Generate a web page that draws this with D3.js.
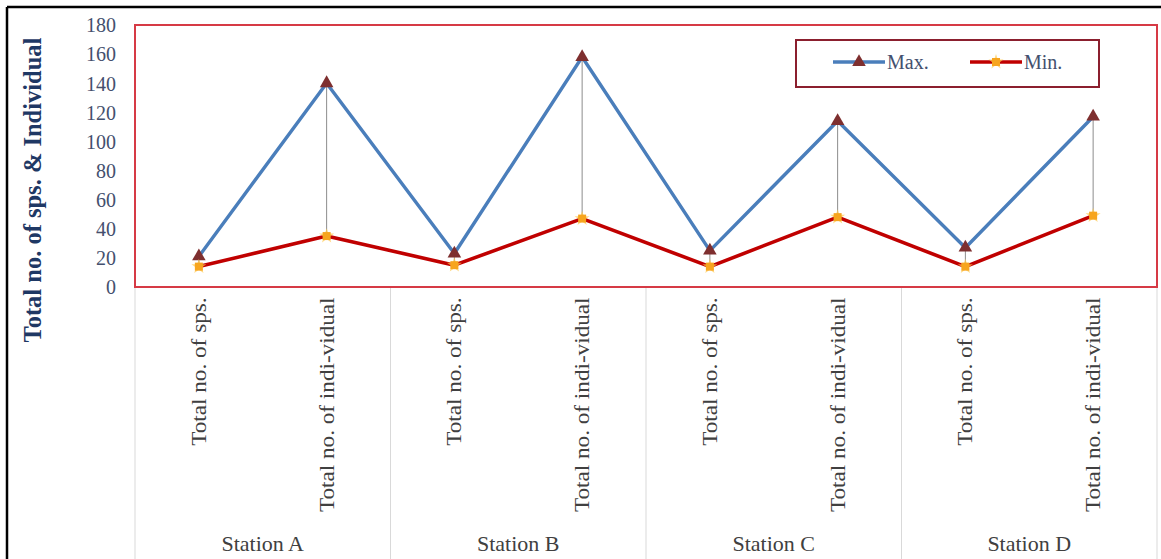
<!DOCTYPE html>
<html>
<head>
<meta charset="utf-8">
<script src="https://cdn.jsdelivr.net/npm/d3@7"></script>
<style>
  html, body { margin: 0; padding: 0; background: #fff; }
  svg { display: block; }
</style>
</head>
<body>
<svg id="chart" width="1161" height="559"></svg>
<script>
// Stations and the two measures recorded at each
const stations = ["Station A", "Station B", "Station C", "Station D"];
const measures = ["Total no. of sps.", "Total no. of indi-vidual"];

// Series values, in station order (sps, individual, sps, individual, ...)
const maxValues = [21, 140, 23, 158, 25, 114, 27, 117];
const minValues = [14, 35, 15, 47, 14, 48, 14, 49];

// Y-axis ticks
const yTicks = [0, 20, 40, 60, 80, 100, 120, 140, 160, 180];

const seriesNames = ["Max.", "Min."];

const svg = d3.select("#chart");
const W = 1161, H = 559;

// Plot frame
const plot = { left: 135, right: 1157, top: 25, bottom: 287 };

// Category keys: one per station/measure pair
const cats = [];
stations.forEach(s => measures.forEach(m => cats.push({ station: s, measure: m, key: s + "|" + m })));

const x = d3.scaleBand().domain(cats.map(c => c.key)).range([plot.left, plot.right]).padding(0);
const xGroup = d3.scaleBand().domain(stations).range([plot.left, plot.right]).padding(0);
const y = d3.scaleLinear().domain([0, 180]).range([plot.bottom, plot.top]);

const serif = "'Liberation Serif', 'Times New Roman', serif";

// Outer frame (top and left edges)
svg.append("line").attr("x1", 7).attr("x2", W).attr("y1", 7).attr("y2", 7)
  .attr("stroke", "#000").attr("stroke-width", 2.5);
svg.append("line").attr("x1", 7).attr("x2", 7).attr("y1", 7).attr("y2", H)
  .attr("stroke", "#000").attr("stroke-width", 2.5);

// Group separators below the axis
const sepXs = stations.map(s => xGroup(s)).concat([plot.right]);
svg.append("g").selectAll("line").data(sepXs).join("line")
  .attr("x1", d => d).attr("x2", d => d)
  .attr("y1", plot.bottom).attr("y2", H)
  .attr("stroke", "#d9d9d9").attr("stroke-width", 1);

// Y axis labels
const yAxis = d3.axisLeft(y).tickValues(yTicks).tickSize(0).tickPadding(0);
const gy = svg.append("g").attr("transform", `translate(116,0)`).call(yAxis);
gy.select(".domain").remove();
gy.selectAll("text")
  .attr("font-family", serif).attr("font-size", 20).attr("fill", "#44506e")
  .attr("dy", "0.34em");

// Category labels (rotated, slightly elongated along the reading direction)
const xAxis = d3.axisBottom(x).tickSize(0).tickFormat(k => k.split("|")[1]);
const gx = svg.append("g").attr("transform", `translate(0,${plot.bottom})`).call(xAxis);
gx.select(".domain").remove();
gx.selectAll("text")
  .attr("font-family", serif).attr("font-size", 20).attr("fill", "#404040")
  .attr("transform", "rotate(-90) scale(1.16,1)")
  .attr("text-anchor", "end")
  .attr("x", -9).attr("y", 0).attr("dy", "0.35em");

// Station labels
svg.append("g").selectAll("text").data(stations).join("text")
  .attr("x", d => xGroup(d) + xGroup.bandwidth() / 2)
  .attr("y", 551)
  .attr("text-anchor", "middle")
  .attr("font-family", serif).attr("font-size", 22).attr("fill", "#404040")
  .text(d => d);

// Y axis title
svg.append("text")
  .attr("transform", `translate(41,${190}) rotate(-90)`)
  .attr("text-anchor", "middle")
  .attr("font-family", serif).attr("font-size", 24.5).attr("font-weight", "bold")
  .attr("fill", "#1f3864")
  .text("Total no. of sps. & Individual");

// Plot frame border
svg.append("rect")
  .attr("x", plot.left).attr("y", plot.top)
  .attr("width", plot.right - plot.left).attr("height", plot.bottom - plot.top)
  .attr("fill", "none").attr("stroke", "#d63a45").attr("stroke-width", 2);

const cx = i => x(cats[i].key) + x.bandwidth() / 2;

// High-low lines
svg.append("g").selectAll("line").data(cats).join("line")
  .attr("x1", (d, i) => cx(i)).attr("x2", (d, i) => cx(i))
  .attr("y1", (d, i) => y(maxValues[i])).attr("y2", (d, i) => y(minValues[i]))
  .attr("stroke", "#8c8c8c").attr("stroke-width", 1);

const line = vals => d3.line().x((d, i) => cx(i)).y(d => y(d))(vals);

// Max series
svg.append("path").attr("d", line(maxValues))
  .attr("fill", "none").attr("stroke", "#4a7ebb").attr("stroke-width", 3.4)
  .attr("stroke-linejoin", "round");
// Min series
svg.append("path").attr("d", line(minValues))
  .attr("fill", "none").attr("stroke", "#c00000").attr("stroke-width", 3.6)
  .attr("stroke-linejoin", "round");

const tri = d3.symbol().type(d3.symbolTriangle).size(80);
const sq = d3.symbol().type(d3.symbolSquare).size(64);
const star = d3.symbol().type(d3.symbolStar).size(70);

svg.append("g").selectAll("path").data(maxValues).join("path")
  .attr("d", tri)
  .attr("transform", (d, i) => `translate(${cx(i)},${y(d)})`)
  .attr("fill", "#7e2f2f");

// Min markers: orange square with a faint star halo
const minMarks = svg.append("g").selectAll("g").data(minValues).join("g")
  .attr("transform", (d, i) => `translate(${cx(i)},${y(d)})`);
minMarks.append("path").attr("d", star).attr("fill", "#ffc94d").attr("opacity", 0.7);
minMarks.append("path").attr("d", sq).attr("fill", "#f7a51e");

// Legend
const lg = svg.append("g");
lg.append("rect").attr("x", 796).attr("y", 40).attr("width", 303).attr("height", 47)
  .attr("fill", "#fff").attr("stroke", "#8b1f2e").attr("stroke-width", 2);

const legendItems = [
  { name: seriesNames[0], x0: 833, color: "#4a7ebb", max: true },
  { name: seriesNames[1], x0: 970, color: "#c00000", max: false }
];
legendItems.forEach(it => {
  lg.append("line").attr("x1", it.x0).attr("x2", it.x0 + 52).attr("y1", 62).attr("y2", 62)
    .attr("stroke", it.color).attr("stroke-width", 3.4);
  const m = lg.append("g").attr("transform", `translate(${it.x0 + 26},62)`);
  if (it.max) {
    m.append("path").attr("d", tri).attr("fill", "#7e2f2f");
  } else {
    m.append("path").attr("d", star).attr("fill", "#ffc94d").attr("opacity", 0.7);
    m.append("path").attr("d", sq).attr("fill", "#f7a51e");
  }
  lg.append("text").attr("x", it.x0 + 54).attr("y", 62).attr("dy", "0.35em")
    .attr("font-family", serif).attr("font-size", 20).attr("fill", "#44506e")
    .text(it.name);
});
</script>
</body>
</html>
